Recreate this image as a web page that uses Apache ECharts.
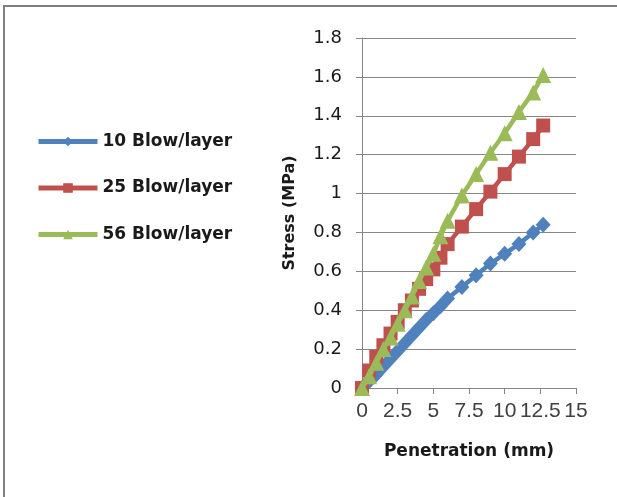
<!DOCTYPE html>
<html>
<head>
<meta charset="utf-8">
<script src="https://cdn.jsdelivr.net/npm/echarts@6/dist/echarts.min.js"></script>
<style>
html,body{margin:0;padding:0;background:#fff;}
#chart{width:617px;height:497px;}
</style>
</head>
<body>
<div id="chart"></div>
<script>
const penetration = [0, 0.5, 1, 1.5, 2, 2.5, 3, 3.5, 4, 4.5, 5, 5.5, 6, 7, 8, 9, 10, 11, 12, 12.7];
const blow10 = [0, 0.035, 0.07, 0.11, 0.15, 0.19, 0.23, 0.27, 0.31, 0.35, 0.385, 0.42, 0.46, 0.52, 0.58, 0.64, 0.69, 0.74, 0.80, 0.84];
const blow25 = [0, 0.09, 0.16, 0.22, 0.28, 0.34, 0.40, 0.45, 0.51, 0.56, 0.61, 0.67, 0.74, 0.83, 0.92, 1.01, 1.10, 1.19, 1.28, 1.35];
const blow56 = [0, 0.06, 0.13, 0.20, 0.26, 0.33, 0.40, 0.47, 0.55, 0.62, 0.69, 0.78, 0.86, 0.99, 1.10, 1.21, 1.31, 1.42, 1.52, 1.61];
const seriesNames = ['10 Blow/layer', '25 Blow/layer', '56 Blow/layer'];
const xTicks = {min: 0, max: 15, interval: 2.5};
const yTicks = {min: 0, max: 1.8, interval: 0.2};

const pairs = ys => penetration.map((x, i) => [x, ys[i]]);
const colors = ['#4F81BD', '#C0504D', '#9BBB59'];
const symbols = ['diamond', 'rect', 'triangle'];
const sizes = [[15, 16], 14, 16];
const data = [blow10, blow25, blow56];

const chart = echarts.init(document.getElementById('chart'));
chart.setOption({
  animation: false,
  backgroundColor: '#fff',
  graphic: [
    {type: 'line', shape: {x1: 3, y1: 6, x2: 617, y2: 6}, style: {stroke: '#7f7f7f', lineWidth: 2}},
    {type: 'line', shape: {x1: 4, y1: 6, x2: 4, y2: 497}, style: {stroke: '#7f7f7f', lineWidth: 2}}
  ],
  legend: {
    orient: 'vertical',
    left: 36,
    top: 133,
    padding: 0,
    itemWidth: 59,
    itemHeight: 12,
    itemGap: 29.5,
    lineStyle: {width: 5},
    textStyle: {fontFamily: 'DejaVu Sans', fontWeight: 'bold', fontSize: 17, color: '#1a1a1a', lineHeight: 12},
    data: seriesNames
  },
  grid: {left: 362, top: 38, width: 214, height: 350},
  xAxis: {
    type: 'value',
    min: xTicks.min, max: xTicks.max, interval: xTicks.interval,
    name: 'Penetration (mm)',
    nameLocation: 'middle',
    nameGap: 55,
    nameTextStyle: {fontFamily: 'DejaVu Sans', fontWeight: 'bold', fontSize: 17, color: '#1a1a1a'},
    axisLine: {show: true, onZero: false, lineStyle: {color: '#868686', width: 1}},
    axisTick: {show: true, inside: false, length: 6, lineStyle: {color: '#868686'}},
    axisLabel: {fontFamily: 'Liberation Sans', fontSize: 21, color: '#404040', margin: 13, hideOverlap: false},
    splitLine: {show: false}
  },
  yAxis: {
    type: 'value',
    min: yTicks.min, max: yTicks.max, interval: yTicks.interval,
    name: 'Stress (MPa)',
    nameLocation: 'middle',
    nameRotate: 90,
    nameGap: 64,
    nameTextStyle: {fontFamily: 'DejaVu Sans', fontWeight: 'bold', fontSize: 16, color: '#1a1a1a'},
    axisLine: {show: true, lineStyle: {color: '#868686', width: 1}},
    axisTick: {show: true, inside: false, length: 6, lineStyle: {color: '#868686'}},
    axisLabel: {fontFamily: 'DejaVu Sans', fontSize: 18, color: '#1a1a1a', margin: 20},
    splitLine: {show: true, lineStyle: {color: '#868686', width: 1}}
  },
  series: seriesNames.map((name, k) => ({
    name: name,
    type: 'line',
    data: pairs(data[k]),
    symbol: symbols[k],
    symbolSize: sizes[k],
    showAllSymbol: true,
    color: colors[k],
    lineStyle: {width: 4.5, color: colors[k]},
    itemStyle: {color: colors[k]},
    z: 2 + k
  }))
});
</script>
</body>
</html>
